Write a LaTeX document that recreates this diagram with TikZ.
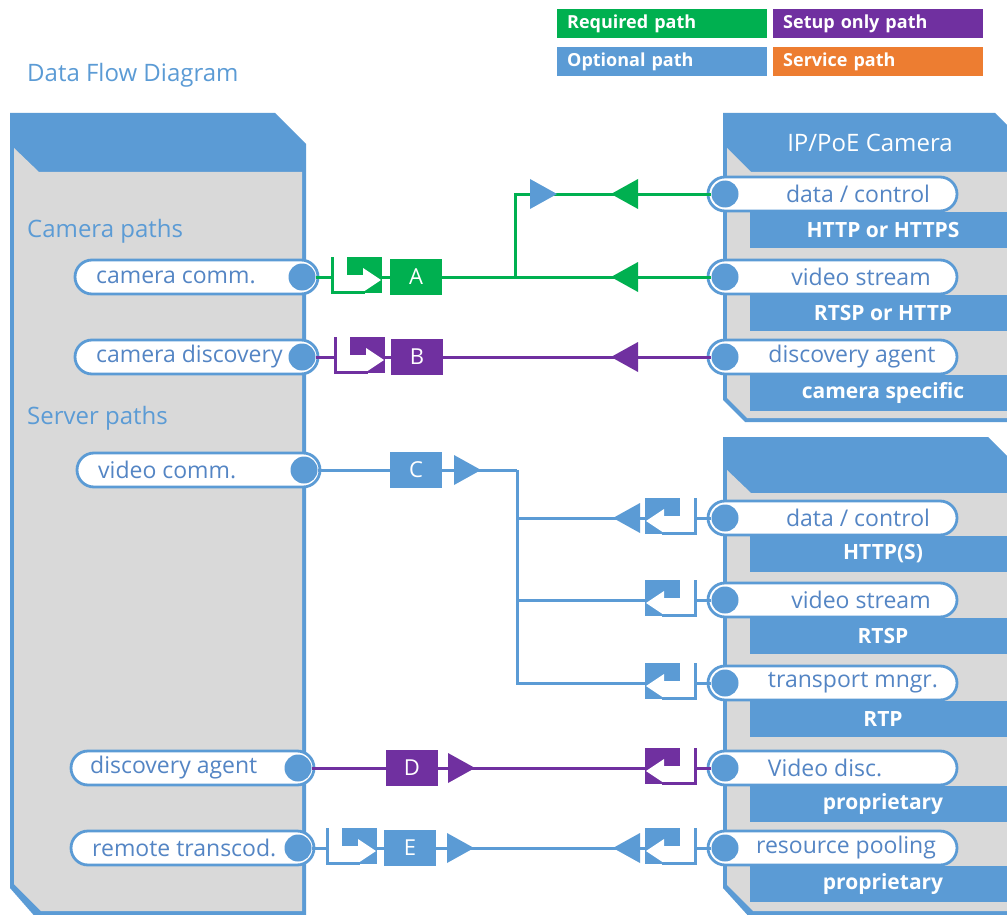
\documentclass[tikz,border=0pt]{standalone}
\usepackage{fontspec}
\setmainfont{Open Sans}
\usetikzlibrary{calc}
\definecolor{pblue}{RGB}{91,155,213}
\definecolor{tblue}{RGB}{84,133,196}
\definecolor{pgrey}{RGB}{217,217,217}
\definecolor{rgreen}{RGB}{0,176,80}
\definecolor{spurple}{RGB}{112,48,160}
\definecolor{sorange}{RGB}{237,125,49}
\tikzset{
  pill/.style={draw=pblue, line width=2.8pt, fill=white, rounded corners=17pt, minimum height=34pt, inner sep=0pt},
  lpill/.style={pill, minimum width=243pt},
  rpill/.style={pill, minimum width=249pt},
  dot/.style={circle, fill=pblue, minimum size=27pt, inner sep=0pt},
  pilltxt/.style={text=tblue, font=\fontsize{23}{26}\selectfont, inner sep=0pt},
  bartxt/.style={text=white, font=\bfseries\fontsize{21}{24}\selectfont, inner sep=0pt},
  headtxt/.style={text=pblue, font=\fontsize{24}{28}\selectfont, inner sep=0pt, anchor=west},
  letterbox/.style={minimum width=52pt, minimum height=36pt, inner sep=0pt, text=white, font=\fontsize{22}{24}\selectfont},
  wire/.style={line width=3pt},
  legendbox/.style={minimum height=29pt, text width=190pt, inner xsep=10pt, inner ysep=0pt, align=left, text=white, font=\bfseries\fontsize{18}{20}\selectfont},
  bar/.style={fill=pblue},
  pics/natbox/.style={code={
    \fill[#1] (15,-20) rectangle (50,16);
    \fill[white] (15,-2) rectangle (33,17);
    \fill[white] (31,-9) -- (49,3) -- (31,15) -- cycle;
    \draw[#1, line width=3pt] (0,-20) -- (0,15) -- (33,15);
    \node[inner sep=0pt, minimum width=50pt, minimum height=36pt] (-n) at (25,0) {};
  }},
  pics/tri/.style={code={
    \fill[#1] (-13,-15) -- (14,0) -- (-13,15) -- cycle;
  }}
}
\begin{document}
\begin{tikzpicture}[x=1pt,y=-1pt]
\useasboundingbox (0,0) rectangle (1007,915);
\clip (0,0) rectangle (1007,915);
\fill[white] (0,0) rectangle (1007,915);

% legend
\node[legendbox, fill=rgreen, anchor=north west] (lgreq) at (557,9) {Required path};
\node[legendbox, fill=spurple, anchor=north west] (lgset) at (773,9) {Setup only path};
\node[legendbox, fill=pblue, anchor=north west] (lgopt) at (557,47) {Optional path};
\node[legendbox, fill=sorange, anchor=north west] (lgsrv) at (773,47) {Service path};

\node[headtxt] (title) at (27,75) {Data Flow Diagram};

% left panel
\fill[pblue] (10,113) -- (275,113) -- (306,144) -- (306,920) -- (38,920) -- (10,888) -- cycle;
\fill[pgrey] (14,148) -- (39,172) -- (302,172) -- (302,911) -- (41,911) -- (14,884) -- cycle;
\node[headtxt] (campaths) at (27,231) {Camera paths};
\node[headtxt] (srvpaths) at (27,418) {Server paths};

% right top panel (camera)
\fill[pblue] (723,113) -- (995,113) -- (1045,163) -- (1045,422) -- (745,422) -- (723,400) -- cycle;
\fill[pgrey] (727,148) -- (751,172) -- (1012,172) -- (1012,418) -- (747,418) -- (727,398) -- cycle;
\node[text=white, font=\fontsize{24}{28}\selectfont, inner sep=0pt] (camtitle) at (870,143) {IP/PoE Camera};

% right bottom panel
\fill[pblue] (723,437) -- (988,437) -- (1045,494) -- (1045,920) -- (752,920) -- (723,888) -- cycle;
\fill[pgrey] (727,470) -- (751,493) -- (1012,493) -- (1012,911) -- (753,911) -- (727,885) -- cycle;

% protocol bars
\foreach \y/\t in {194/{HTTP or HTTPS}, 277/{RTSP or HTTP}, 357/{camera specific}, 518/{HTTP(S)}, 600/{RTSP}, 683/{RTP}, 768/{proprietary}, 848/{proprietary}}{
  \fill[bar] (750,\y+18) rectangle (1012,\y+54);
  \node[bartxt] at (883,\y+36) {\t};
}

% left pills
\node[lpill] (lcam) at (196.5,277) {};
\node[dot] (lcamc) at (302,277) {};
\node[pilltxt, anchor=west] (lcamt) at (96,277) {camera comm.};
\node[lpill] (ldisc) at (196.5,357) {};
\node[dot] (ldiscc) at (302,357) {};
\node[pilltxt, anchor=west] (ldisct) at (96,357) {camera discovery};
\node[lpill] (lvid) at (198.5,470) {};
\node[dot] (lvidc) at (304,470) {};
\node[pilltxt, anchor=west] (lvidt) at (98,470) {video comm.};
\node[lpill] (lagent) at (192.5,768) {};
\node[dot] (lagentc) at (298,768) {};
\node[pilltxt, anchor=west] (lagentt) at (90,768) {discovery agent};
\node[lpill] (lrem) at (192.5,848) {};
\node[dot] (lremc) at (298,848) {};
\node[pilltxt, anchor=west] (lremt) at (92,848) {remote transcod.};

% right pills
\foreach \n/\y/\x/\t in {rdata1/194/858/{data / control}, rvid1/277/861/{video stream}, ragent1/357/852/{discovery agent}, rdata2/518/858/{data / control}, rvid2/600/861/{video stream}, rtrans/683/853/{transport mngr.}, rvdisc/768/825/{Video disc.}, rres/848/846/{resource pooling}}{
  \node[rpill] (\n) at (832.5,\y) {};
  \node[dot] (\n c) at (725,\y) {};
  \node[pilltxt] (\n t) at (\x,\y) {\t};
}

% icons
\pic (iA) at (332,277) {natbox=rgreen};
\pic (iB) at (335,357) {natbox=spurple};
\pic (iE) at (327,848) {natbox=pblue};
\pic[xscale=-1] (iC1) at (695,518) {natbox=pblue};
\pic[xscale=-1] (iC2) at (695,600) {natbox=pblue};
\pic[xscale=-1] (iC3) at (695,683) {natbox=pblue};
\pic[xscale=-1] (iD) at (695,768) {natbox=spurple};
\pic[xscale=-1] (iE2) at (695,848) {natbox=pblue};

% letter boxes
\node[letterbox, fill=rgreen] (boxA) at (416,277) {A};
\node[letterbox, fill=spurple] (boxB) at (417,357) {B};
\node[letterbox, fill=pblue] (boxC) at (416,470) {C};
\node[letterbox, fill=spurple] (boxD) at (412,768) {D};
\node[letterbox, fill=pblue] (boxE) at (410,848) {E};

\coordinate (jA) at (515,277);
\coordinate (jC) at (517,470);

% connectors A
\draw[wire, rgreen] (lcamc) -- (iA-n);
\draw[wire, rgreen] (iA-n) -- (boxA);
\draw[wire, rgreen] (boxA) -- (jA);
\draw[wire, rgreen] (jA) |- (rdata1c);
\draw[wire, rgreen] (jA) -- (rvid1c);
% B
\draw[wire, spurple] (ldiscc) -- (iB-n);
\draw[wire, spurple] (iB-n) -- (boxB);
\draw[wire, spurple] (boxB) -- (ragent1c);
% C
\draw[wire, pblue] (lvidc) -- (boxC);
\draw[wire, pblue] (boxC) -- (jC);
\draw[wire, pblue] (jC) |- (iC1-n);
\draw[wire, pblue] (jC) |- (iC2-n);
\draw[wire, pblue] (jC) |- (iC3-n);
\draw[wire, pblue] (iC1-n) -- (rdata2c);
\draw[wire, pblue] (iC2-n) -- (rvid2c);
\draw[wire, pblue] (iC3-n) -- (rtransc);
% D
\draw[wire, spurple] (lagentc) -- (boxD);
\draw[wire, spurple] (boxD) -- (iD-n);
\draw[wire, spurple] (iD-n) -- (rvdiscc);
% E
\draw[wire, pblue] (lremc) -- (iE-n);
\draw[wire, pblue] (iE-n) -- (boxE);
\draw[wire, pblue] (boxE) -- (iE2-n);
\draw[wire, pblue] (iE2-n) -- (rresc);

% direction triangles
\pic at (543,194) {tri=pblue};
\pic[xscale=-1] at (625,194) {tri=rgreen};
\pic[xscale=-1] at (625,277) {tri=rgreen};
\pic[xscale=-1] at (625,357) {tri=spurple};
\pic at (467,470) {tri=pblue};
\pic[xscale=-1] at (627,518) {tri=pblue};
\pic at (461,768) {tri=spurple};
\pic at (460,848) {tri=pblue};
\pic[xscale=-1] at (627,848) {tri=pblue};
\end{tikzpicture}
\end{document}
